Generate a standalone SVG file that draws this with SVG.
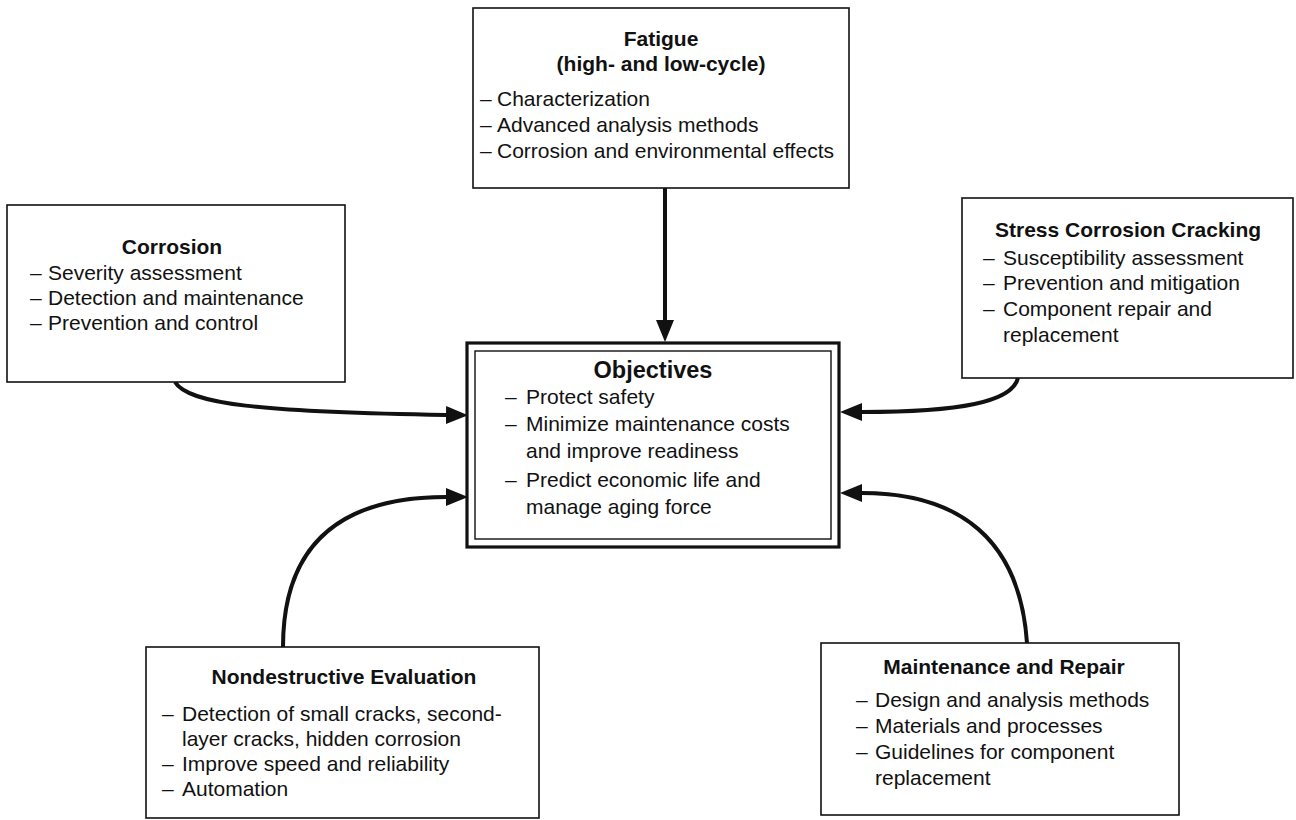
<svg xmlns="http://www.w3.org/2000/svg" width="1296" height="820" viewBox="0 0 1296 820">
  <style>
    text { font-family: "Liberation Sans", Arial, Helvetica, sans-serif; font-size: 21px; fill: #111; }
    .title { font-weight: bold; text-anchor: middle; }
    .big { font-size: 23.5px; }
    .box { fill: #fff; stroke: #111; stroke-width: 1.6; }
    .conn { fill: none; stroke: #111; stroke-width: 4; }
  </style>
  <defs>
    <marker id="ah" viewBox="0 0 22 18" refX="0" refY="9" markerWidth="22" markerHeight="18" orient="auto" markerUnits="userSpaceOnUse">
      <path d="M0,0 L22,9 L0,18 Z" fill="#111"/>
    </marker>
  </defs>
  <rect width="1296" height="820" fill="#fff"/>

  <!-- connectors -->
  <g id="connectors">
    <path class="conn" d="M665,188 L665,320" marker-end="url(#ah)"/>
    <path class="conn" d="M175,382 C188,404 260,412 446,415" marker-end="url(#ah)"/>
    <path class="conn" d="M283,647 C283,545 340,497 446,497" marker-end="url(#ah)"/>
    <path class="conn" d="M1018,378 C1012,402 960,412 862,412" marker-end="url(#ah)"/>
    <path class="conn" d="M1027,643 C1020,540 960,493 862,493" marker-end="url(#ah)"/>
  </g>

  <!-- Fatigue -->
  <g id="fatigue">
    <rect class="box" x="473" y="8" width="376" height="180"/>
    <text class="title" x="661" y="46">Fatigue</text>
    <text class="title" x="661" y="71">(high- and low-cycle)</text>
    <text x="480" y="106">–</text><text x="497" y="106">Characterization</text>
    <text x="480" y="132">–</text><text x="497" y="132">Advanced analysis methods</text>
    <text x="480" y="158">–</text><text x="497" y="158">Corrosion and environmental effects</text>
  </g>

  <!-- Corrosion -->
  <g id="corrosion">
    <rect class="box" x="7" y="205" width="338" height="177"/>
    <text class="title" x="172" y="254">Corrosion</text>
    <text x="30" y="280">–</text><text x="48" y="280">Severity assessment</text>
    <text x="30" y="305">–</text><text x="48" y="305">Detection and maintenance</text>
    <text x="30" y="330">–</text><text x="48" y="330">Prevention and control</text>
  </g>

  <!-- Stress Corrosion Cracking -->
  <g id="scc">
    <rect class="box" x="962" y="198" width="331" height="180"/>
    <text x="995" y="237" font-weight="bold">Stress Corrosion Cracking</text>
    <text x="983" y="265">–</text><text x="1003" y="265">Susceptibility assessment</text>
    <text x="983" y="290">–</text><text x="1003" y="290">Prevention and mitigation</text>
    <text x="983" y="316">–</text><text x="1003" y="316">Component repair and</text>
    <text x="1003" y="342">replacement</text>
  </g>

  <!-- Objectives -->
  <g id="objectives">
    <rect x="467" y="343" width="372" height="204" fill="#fff" stroke="#111" stroke-width="3.2"/>
    <rect x="475" y="351" width="356" height="188" fill="none" stroke="#111" stroke-width="1.4"/>
    <text class="title big" x="653" y="378">Objectives</text>
    <text x="505" y="404">–</text><text x="526" y="404">Protect safety</text>
    <text x="505" y="431">–</text><text x="526" y="431">Minimize maintenance costs</text>
    <text x="526" y="458">and improve readiness</text>
    <text x="505" y="487">–</text><text x="526" y="487">Predict economic life and</text>
    <text x="526" y="514">manage aging force</text>
  </g>

  <!-- Nondestructive Evaluation -->
  <g id="nde">
    <rect class="box" x="146" y="647" width="393" height="171"/>
    <text class="title" x="344" y="684">Nondestructive Evaluation</text>
    <text x="162" y="721">–</text><text x="182" y="721">Detection of small cracks, second-</text>
    <text x="182" y="746">layer cracks, hidden corrosion</text>
    <text x="162" y="771">–</text><text x="182" y="771">Improve speed and reliability</text>
    <text x="162" y="796">–</text><text x="182" y="796">Automation</text>
  </g>

  <!-- Maintenance and Repair -->
  <g id="mr">
    <rect class="box" x="821" y="643" width="358" height="172"/>
    <text class="title" x="1004" y="674">Maintenance and Repair</text>
    <text x="856" y="707">–</text><text x="875" y="707">Design and analysis methods</text>
    <text x="856" y="733">–</text><text x="875" y="733">Materials and processes</text>
    <text x="856" y="759">–</text><text x="875" y="759">Guidelines for component</text>
    <text x="875" y="785">replacement</text>
  </g>
</svg>
